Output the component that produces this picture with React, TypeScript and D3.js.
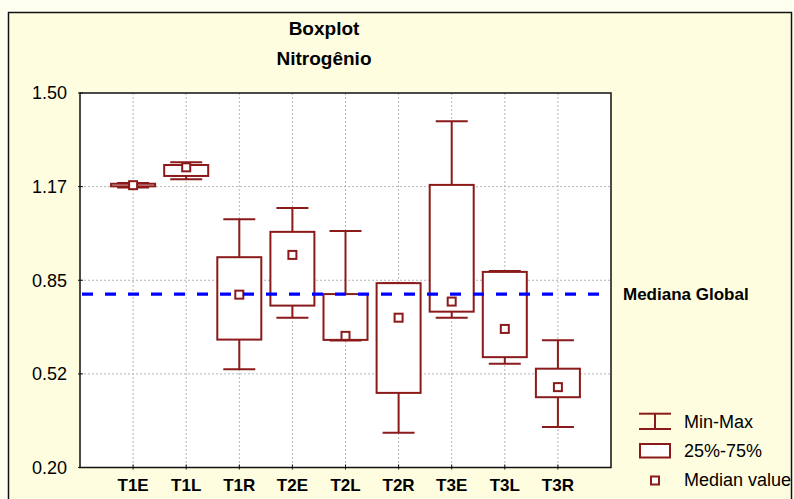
import React from "react";
import * as d3 from "d3";

const categories = ["T1E", "T1L", "T1R", "T2E", "T2L", "T2R", "T3E", "T3L", "T3R"];
const minValues = [1.172, 1.201, 0.541, 0.72, 0.641, 0.321, 0.72, 0.56, 0.341];
const q1Values = [1.176, 1.212, 0.644, 0.762, 0.643, 0.459, 0.741, 0.583, 0.444];
const medianValues = [1.18, 1.242, 0.8, 0.938, 0.657, 0.72, 0.776, 0.681, 0.479];
const q3Values = [1.185, 1.25, 0.93, 1.018, 0.802, 0.84, 1.181, 0.879, 0.543];
const maxValues = [1.188, 1.26, 1.062, 1.101, 1.021, 0.84, 1.402, 0.882, 0.642];
const yTickValues = [0.2, 0.525, 0.85, 1.175, 1.5];
const yTickLabels = ["0.20", "0.52", "0.85", "1.17", "1.50"];
const globalMedian = 0.802;
const legendLabels = ["Min-Max", "25%-75%", "Median value"];

const W = 794;
const H = 499;
const plot = { left: 80, right: 611, top: 93, bottom: 467.5 };
const RED = "#8b1a1a";
const FONT = "'Liberation Sans', Arial, sans-serif";

export default function App() {
  const x = d3.scaleLinear().domain([0, categories.length + 1]).range([plot.left, plot.right]);
  const y = d3.scaleLinear().domain([0.2, 1.5]).range([plot.bottom, plot.top]);
  const boxW = 44;
  const capW = 32;
  const mk = 8;

  return (
    <svg
      width={W}
      height={H}
      style={{ position: "absolute", left: 0, top: 0, display: "block" }}
      fontFamily={FONT}
    >
      <rect x={0} y={0} width={W} height={H} fill="#fffff0" />
      <rect x={8.5} y={12.5} width={783} height={500} fill="#fefde0" stroke="#111" strokeWidth={1.5} />

      <text x={324} y={35} textAnchor="middle" fontSize={19} fontWeight="bold">Boxplot</text>
      <text x={324} y={65} textAnchor="middle" fontSize={19} fontWeight="bold">Nitrogênio</text>

      <rect x={plot.left} y={plot.top} width={plot.right - plot.left} height={plot.bottom - plot.top} fill="#fff" />

      {yTickValues.slice(1, -1).map((v) => (
        <line key={"hg" + v} x1={plot.left} x2={plot.right} y1={y(v)} y2={y(v)} stroke="#b4b4b4" strokeWidth={1} strokeDasharray="2,2" />
      ))}
      {categories.map((c, i) => (
        <line key={"vg" + c} x1={x(i + 1)} x2={x(i + 1)} y1={plot.top} y2={plot.bottom} stroke="#b4b4b4" strokeWidth={1} strokeDasharray="2,2" />
      ))}

      {categories.map((c, i) => {
        const cx = x(i + 1);
        return (
          <g key={"b" + c} stroke={RED} strokeWidth={2} fill="none">
            <line x1={cx} x2={cx} y1={y(q3Values[i])} y2={y(maxValues[i])} />
            <line x1={cx} x2={cx} y1={y(q1Values[i])} y2={y(minValues[i])} />
            <line x1={cx - capW / 2} x2={cx + capW / 2} y1={y(maxValues[i])} y2={y(maxValues[i])} />
            <line x1={cx - capW / 2} x2={cx + capW / 2} y1={y(minValues[i])} y2={y(minValues[i])} />
            <rect x={cx - boxW / 2} y={y(q3Values[i])} width={boxW} height={Math.max(0.5, y(q1Values[i]) - y(q3Values[i]))} fill="#fff" />
            <rect x={cx - mk / 2} y={y(medianValues[i]) - mk / 2} width={mk} height={mk} fill="#fff" />
          </g>
        );
      })}

      <line x1={plot.left} x2={plot.right} y1={y(globalMedian)} y2={y(globalMedian)} stroke="#0000ff" strokeWidth={3.3} strokeDasharray="11,12" strokeDashoffset={-2} />

      <rect x={plot.left} y={plot.top} width={plot.right - plot.left} height={plot.bottom - plot.top} fill="none" stroke="#111" strokeWidth={1.5} />
      {categories.map((c, i) => (
        <line key={"xt" + c} x1={x(i + 1)} x2={x(i + 1)} y1={plot.bottom - 3} y2={plot.bottom + 2} stroke="#111" strokeWidth={1} />
      ))}
      {yTickValues.map((v) => (
        <line key={"yt" + v} x1={plot.left - 2} x2={plot.left + 3} y1={y(v)} y2={y(v)} stroke="#111" strokeWidth={1} />
      ))}

      {yTickValues.map((v, i) => (
        <text key={"yl" + v} x={67} y={y(v)} dy="0.35em" textAnchor="end" fontSize={18}>{yTickLabels[i]}</text>
      ))}
      {categories.map((c, i) => (
        <text key={"xl" + c} x={x(i + 1)} y={491} textAnchor="middle" fontSize={17} fontWeight="bold">{c}</text>
      ))}

      <text x={623} y={y(globalMedian)} dy="0.35em" fontSize={17} fontWeight="bold">Mediana Global</text>

      <g stroke={RED} strokeWidth={2} fill="none">
        <line x1={639} x2={671} y1={413.7} y2={413.7} />
        <line x1={639} x2={671} y1={429} y2={429} />
        <line x1={655} x2={655} y1={413.7} y2={429} />
        <rect x={640} y={444} width={30} height={13.5} fill="#fff" />
        <rect x={651} y={476.5} width={8} height={8} fill="#fff" />
      </g>
      {legendLabels.map((t, i) => (
        <text key={t} x={684} y={421.7 + i * 29} dy="0.35em" fontSize={18}>{t}</text>
      ))}
    </svg>
  );
}
